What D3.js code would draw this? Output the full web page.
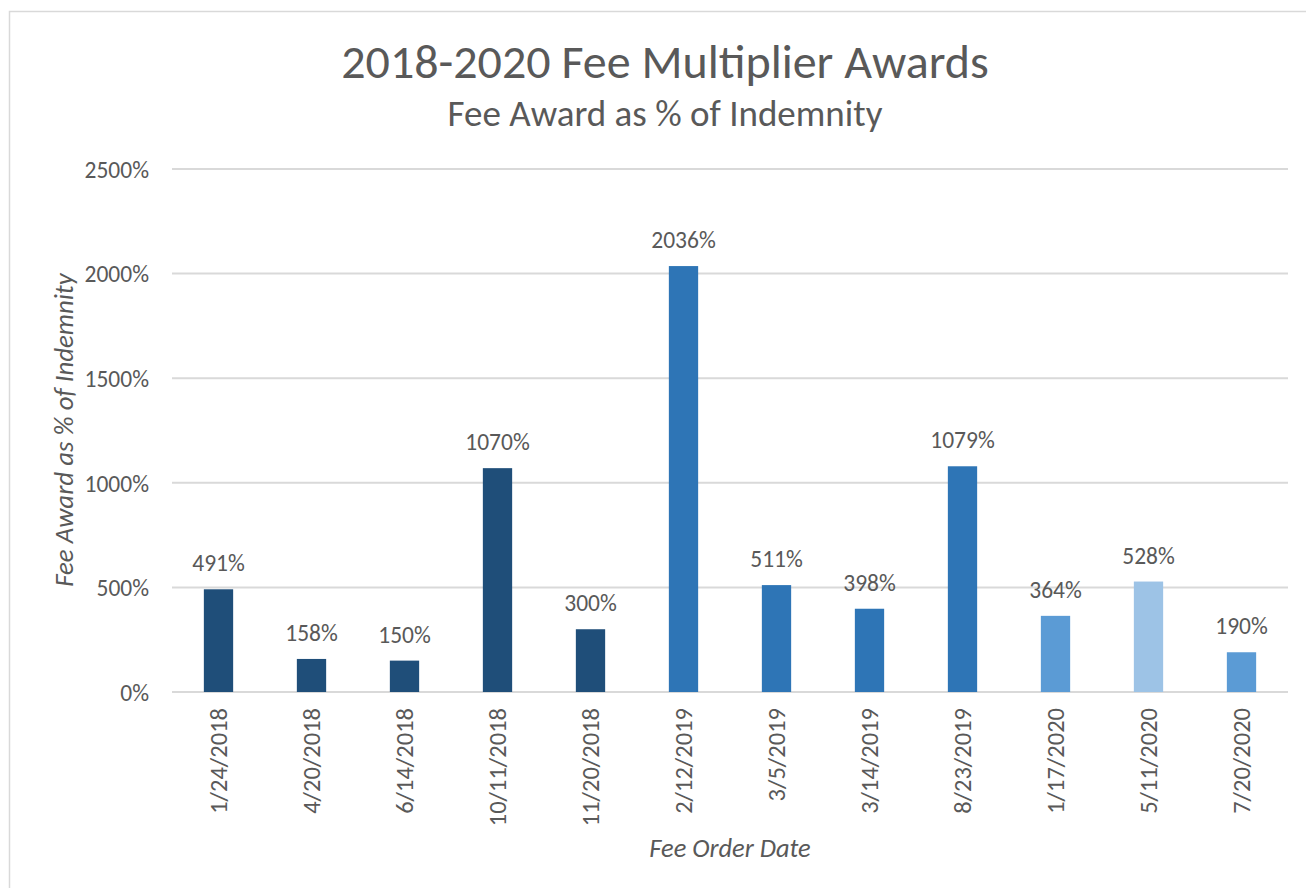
<!DOCTYPE html>
<html><head><meta charset="utf-8">
<script src="https://cdn.jsdelivr.net/npm/d3@7"></script>
<style>
body{margin:0;background:#fff;}
text{font-family:Carlito,Lato,"Open Sans",sans-serif;fill:#595959;}
</style></head>
<body><svg id="c" width="1306" height="888"></svg>
<script>
const categories=["1/24/2018","4/20/2018","6/14/2018","10/11/2018","11/20/2018","2/12/2019","3/5/2019","3/14/2019","8/23/2019","1/17/2020","5/11/2020","7/20/2020"];
const values=[491,158,150,1070,300,2036,511,398,1079,364,528,190];
const barColors=["#1F4E79","#1F4E79","#1F4E79","#1F4E79","#1F4E79","#2E75B6","#2E75B6","#2E75B6","#2E75B6","#5B9BD5","#9DC3E6","#5B9BD5"];
const yTicks=[0,500,1000,1500,2000,2500];
const title="2018-2020 Fee Multiplier Awards";
const subtitle="Fee Award as % of Indemnity";
const xTitle="Fee Order Date";
const yTitle="Fee Award as % of Indemnity";

const svg=d3.select("#c");
svg.append("rect").attr("x",9.5).attr("y",11.5).attr("width",1320).attr("height",900)
  .attr("fill","#fff").attr("stroke","#D9D9D9").attr("stroke-width",1.5);

const L=172,R=1288,T=169,B=692;
const x=d3.scaleBand().domain(categories).range([L,R]).paddingInner(0.685).paddingOuter(0.3425);
const y=d3.scaleLinear().domain([0,2500]).range([B,T]);

// gridlines
svg.append("g").selectAll("line").data(yTicks).join("line")
  .attr("x1",L).attr("x2",R).attr("y1",d=>y(d)).attr("y2",d=>y(d))
  .attr("stroke","#D9D9D9").attr("stroke-width",2);

// y axis labels
const yAxis=d3.axisLeft(y).tickValues(yTicks).tickFormat(d=>d+"%").tickSize(0).tickPadding(23);
const gy=svg.append("g").attr("transform",`translate(${L},0)`).call(yAxis);
gy.select(".domain").remove();
gy.selectAll("text").attr("font-size",23.5).style("fill","#595959").attr("font-family","Carlito,Lato,sans-serif").attr("dy","0.35em");

// bars
svg.append("g").selectAll("rect").data(values).join("rect")
  .attr("x",(d,i)=>x(categories[i])).attr("width",x.bandwidth())
  .attr("y",d=>y(d)).attr("height",d=>B-y(d))
  .attr("fill",(d,i)=>barColors[i]);

// data labels
svg.append("g").selectAll("text").data(values).join("text")
  .attr("x",(d,i)=>x(categories[i])+x.bandwidth()/2).attr("y",d=>y(d)-18)
  .attr("text-anchor","middle").attr("font-size",23.5).text(d=>d+"%");

// x axis labels
const xAxis=d3.axisBottom(x).tickSize(0).tickPadding(0);
const gx=svg.append("g").attr("transform",`translate(0,${B})`).call(xAxis);
gx.select(".domain").remove();
gx.selectAll("text").attr("font-size",24.5).style("fill","#595959").attr("font-family","Carlito,Lato,sans-serif")
  .attr("transform","rotate(-90)").attr("text-anchor","end").attr("x",-16).attr("y",0).attr("dy","0.35em");

// titles
svg.append("text").attr("x",665).attr("y",78).attr("text-anchor","middle").attr("font-size",48).text(title);
svg.append("text").attr("x",665).attr("y",126).attr("text-anchor","middle").attr("font-size",37).text(subtitle);
svg.append("text").attr("x",730).attr("y",857).attr("text-anchor","middle").attr("font-size",26.4).attr("font-style","italic").text(xTitle);
svg.append("text").attr("transform","translate(73,430) rotate(-90)").attr("text-anchor","middle").attr("font-size",26.8).attr("font-style","italic").text(yTitle);
</script></body></html>
